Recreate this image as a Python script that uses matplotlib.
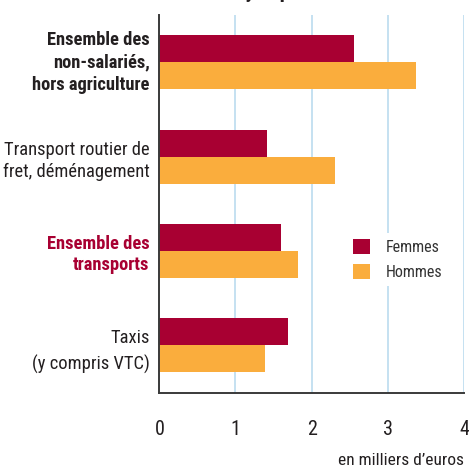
import numpy as np
import matplotlib
matplotlib.use('Agg')
import matplotlib.pyplot as plt
from matplotlib.transforms import ScaledTranslation

plt.rcParams.update({
    'font.family': ['Roboto Condensed', 'DejaVu Sans'],
    'font.size': 13.5,
})

# data (en milliers d'euros)
categories = ['Ensemble des\nnon-salariés,\nhors agriculture',
              'Transport routier de\nfret, déménagement',
              'Ensemble des\ntransports',
              'Taxis\n(y compris VTC)']
femmes = [2.55, 1.41, 1.60, 1.69]
hommes = [3.37, 2.31, 1.82, 1.39]
xticks = [0, 1, 2, 3, 4]

RED = '#a80032'
ORANGE = '#faad3d'
DARK = '#231f20'
GRID = '#b5d9ee'

fig = plt.figure(figsize=(4.69, 4.67), dpi=100)
ax = fig.add_axes([0.3397, 0.1591, 0.6497, 0.8088])

y = np.arange(len(categories))
h = 0.286
ax.barh(y, femmes, height=-h, align='edge', color=RED, label='Femmes', zorder=2)
ax.barh(y, hommes, height=h, align='edge', color=ORANGE, label='Hommes', zorder=2)

ax.set_xlim(0, 4)
ax.set_ylim(3.5, -0.5)
ax.set_xticks(xticks)
ax.set_xticklabels([str(v) for v in xticks], color=DARK, fontsize=14.5)
ax.tick_params(axis='x', length=0, pad=20)
ax.tick_params(axis='y', length=0, pad=7)
ax.grid(axis='x', color=GRID, lw=1.1, zorder=0)
ax.set_axisbelow(True)
for s in ['top', 'right']:
    ax.spines[s].set_visible(False)
for s in ['left', 'bottom']:
    ax.spines[s].set_color('#3a3a3a')
    ax.spines[s].set_linewidth(1.4)

ax.set_yticks(y)
ax.set_yticklabels(categories, fontsize=13.3)
labs = ax.get_yticklabels()
spacing = [1.33, 1.3, 1.2, 1.55]
for i, lab in enumerate(labs):
    lab.set_linespacing(spacing[i])
    lab.set_color(DARK)
labs[0].set_fontweight('bold')
labs[2].set_fontweight('bold')
labs[2].set_color(RED)
# first label block sits a little higher than its bars
labs[0].set_transform(labs[0].get_transform() + ScaledTranslation(0, 4 / 100, fig.dpi_scale_trans))

leg = ax.legend(loc='upper left', bbox_to_anchor=(0.616, 0.4228), borderaxespad=0,
                frameon=True, fontsize=11.5, handlelength=1.05, handleheight=1.05,
                handletextpad=1.0, labelspacing=0.55, borderpad=0.4, fancybox=False)
leg.get_frame().set_facecolor('white')
leg.get_frame().set_edgecolor('none')
leg.get_frame().set_alpha(1)
for t in leg.get_texts():
    t.set_color('#333333')

fig.text(464 / 469, (467 - 453) / 467, 'en milliers d’euros', ha='right', va='top',
         fontsize=12.5, color=DARK)

# title, cut off at the top edge: place it so the "y" of "moyen" sits near x=247 px
title = 'Revenu d’activité mensuel moyen par sexe en 2017'
prefix = 'Revenu d’activité mensuel mo'
tmp = fig.text(0, 0, prefix, fontsize=15, fontweight='bold')
r = fig.canvas.get_renderer()
w = tmp.get_window_extent(r).width
tmp.remove()
fig.text((245 - w) / 469, 1 + 1.5 / 467, title,
         ha='left', va='baseline', fontsize=15, fontweight='bold', color=DARK)

fig.savefig('out.png', dpi=100, facecolor='white')
